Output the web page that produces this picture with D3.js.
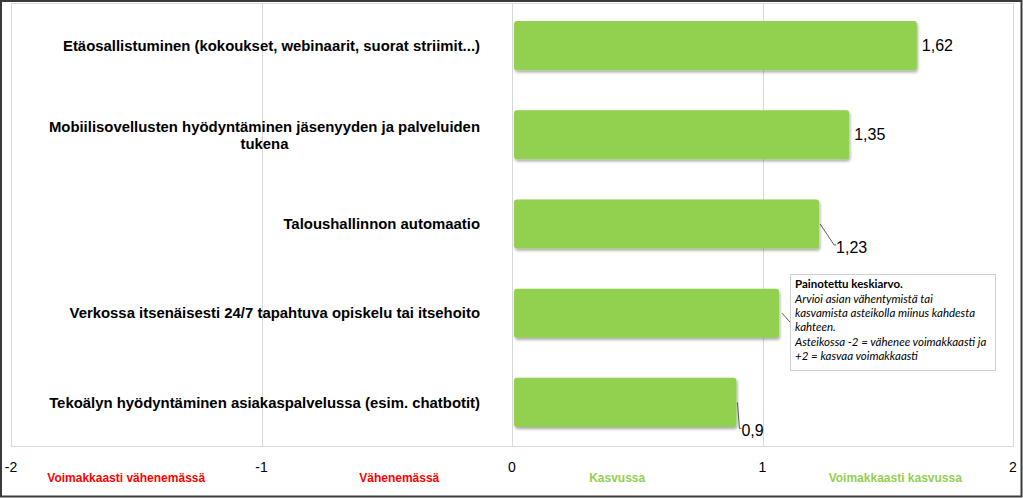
<!DOCTYPE html>
<html><head><meta charset="utf-8">
<script src="https://cdn.jsdelivr.net/npm/d3@7"></script>
<style>html,body{margin:0;padding:0;background:#fff;}svg{display:block;}</style>
</head><body>
<svg id="c" width="1023" height="498"></svg>
<script>
const categories = [
  ["Etäosallistuminen (kokoukset, webinaarit, suorat striimit...)"],
  ["Mobiilisovellusten hyödyntäminen jäsenyyden ja palveluiden", "tukena"],
  ["Taloushallinnon automaatio"],
  ["Verkossa itsenäisesti 24/7 tapahtuva opiskelu tai itsehoito"],
  ["Tekoälyn hyödyntäminen asiakaspalvelussa (esim. chatbotit)"]
];
const values = [1.62, 1.35, 1.23, 1.07, 0.9];
const valueLabels = ["1,62", "1,35", "1,23", "", "0,9"];
const tickValues = [-2, -1, 0, 1, 2];
const tickLabels = ["-2", "-1", "0", "1", "2"];
const zoneLabels = ["Voimakkaasti vähenemässä", "Vähenemässä", "Kasvussa", "Voimakkaasti kasvussa"];
const zonePositions = [-1.54, -0.45, 0.42, 1.53];
const zoneColors = ["#ff0000", "#ff0000", "#92d050", "#92d050"];
const noteTitle = "Painotettu keskiarvo.";
const noteLines = ["Arvioi asian vähentymistä tai", "kasvamista asteikolla miinus kahdesta", "kahteen.", "Asteikossa -2 = vähenee voimakkaasti ja", "+2 = kasvaa voimakkaasti"];

const svg = d3.select("#c");
const plot = {left: 11, right: 1013, top: 3, bottom: 446};
const x = d3.scaleLinear().domain([-2, 2]).range([plot.left, plot.right]);
const idx = d3.range(categories.length);
const y = d3.scaleBand().domain(idx).range([1, 447]).paddingInner(0.45).paddingOuter(0.225);

const defs = svg.append("defs");
const f = defs.append("filter").attr("id", "sh").attr("x", "-5%").attr("y", "-20%").attr("width", "110%").attr("height", "150%");
f.append("feDropShadow").attr("dx", 1).attr("dy", 2).attr("stdDeviation", 1.6).attr("flood-color", "#000").attr("flood-opacity", 0.35);

// plot border and gridlines
svg.append("rect").attr("x", plot.left + 0.5).attr("y", plot.top + 0.5)
  .attr("width", plot.right - plot.left).attr("height", plot.bottom - plot.top)
  .attr("fill", "none").attr("stroke", "#d9d9d9").attr("stroke-width", 1);
svg.append("g").selectAll("line").data(tickValues.slice(1, -1)).join("line")
  .attr("x1", d => Math.round(x(d)) + 0.5).attr("x2", d => Math.round(x(d)) + 0.5)
  .attr("y1", plot.top).attr("y2", plot.bottom)
  .attr("stroke", "#d9d9d9").attr("stroke-width", 1);

// category labels
const labelX = 480;
const lg = svg.append("g").attr("font-family", "'Liberation Sans', Arial, sans-serif")
  .attr("font-weight", "bold").attr("font-size", 14.9).attr("fill", "#000");
idx.forEach(i => {
  const lines = categories[i];
  const cy = y(i) + y.bandwidth() / 2;
  if (lines.length === 1) {
    lg.append("text").attr("x", labelX).attr("y", cy).attr("dy", "0.35em")
      .attr("text-anchor", "end").text(lines[0]);
  } else {
    const t0 = lg.append("text").attr("x", labelX).attr("y", cy - 8.5).attr("dy", "0.35em")
      .attr("text-anchor", "end").text(lines[0]);
    const w = t0.node().getComputedTextLength();
    lg.append("text").attr("x", labelX - w / 2).attr("y", cy + 8.5).attr("dy", "0.35em")
      .attr("text-anchor", "middle").text(lines[1]);
  }
});

// bars
svg.append("g").selectAll("rect").data(idx).join("rect")
  .attr("x", x(0) + 2).attr("y", i => y(i))
  .attr("width", i => x(values[i]) - x(0) - 3).attr("height", y.bandwidth())
  .attr("rx", 3).attr("fill", "#92d050").attr("filter", "url(#sh)");

// value labels
const vg = svg.append("g").attr("font-family", "'Liberation Sans', Arial, sans-serif")
  .attr("font-size", 16).attr("fill", "#000");
const offsets = [
  {dx: 5, dy: 0, leader: false},
  {dx: 5, dy: 0, leader: false},
  {dx: 17, dy: 23, leader: true},
  {dx: 5, dy: 0, leader: false},
  {dx: 5, dy: 28, leader: true}
];
idx.forEach(i => {
  if (!valueLabels[i]) return;
  const bx = x(values[i]) - 1;
  const cy = y(i) + y.bandwidth() / 2;
  const o = offsets[i];
  if (o.leader) {
    vg.append("path")
      .attr("d", `M${bx + 1},${cy} L${bx + o.dx - 2},${cy + o.dy - 2} L${bx + o.dx},${cy + o.dy - 2}`)
      .attr("fill", "none").attr("stroke", "#333").attr("stroke-width", 0.8);
  }
  vg.append("text").attr("x", bx + o.dx).attr("y", cy + o.dy).attr("dy", "0.35em").text(valueLabels[i]);
});

// leader for hidden label (bar 4) into note box
{
  const bx = x(values[3]);
  const cy = y(3) + y.bandwidth() / 2;
  svg.append("line").attr("x1", bx + 2).attr("y1", cy).attr("x2", 791).attr("y2", cy + 10)
    .attr("stroke", "#333").attr("stroke-width", 0.8);
}

// axis tick labels
const ag = svg.append("g").attr("font-family", "'Liberation Sans', Arial, sans-serif")
  .attr("font-size", 14).attr("fill", "#000");
tickValues.forEach((v, i) => {
  ag.append("text").attr("x", x(v)).attr("y", 467).attr("dy", "0.35em")
    .attr("text-anchor", "middle").text(tickLabels[i]);
});

// zone labels
const zg = svg.append("g").attr("font-family", "'Liberation Sans Narrow', 'Arial Narrow', 'Liberation Sans', sans-serif")
  .attr("font-size", 12).attr("font-weight", "bold");
zoneLabels.forEach((t, i) => {
  zg.append("text").attr("x", x(zonePositions[i])).attr("y", 478).attr("dy", "0.35em")
    .attr("text-anchor", "middle").attr("fill", zoneColors[i]).text(t);
});

// note box
const nb = svg.append("g");
nb.append("rect").attr("x", 790.5).attr("y", 274.5).attr("width", 205).attr("height", 96)
  .attr("fill", "#fff").attr("stroke", "#d0d0d0").attr("stroke-width", 1);
const nt = nb.append("g").attr("font-family", "Lato, 'Open Sans', sans-serif").attr("font-size", 11.5).attr("fill", "#000");
nt.append("text").attr("x", 795).attr("y", 288).attr("font-weight", "bold").text(noteTitle);
noteLines.forEach((t, i) => {
  nt.append("text").attr("x", 795).attr("y", 302.5 + i * 14.4).attr("font-style", "italic").text(t);
});

// outer frame
svg.append("rect").attr("x", 1).attr("y", 1).attr("width", 1020.5).attr("height", 495.5)
  .attr("fill", "none").attr("stroke", "#3a3a3a").attr("stroke-width", 2);
</script>
</body></html>
